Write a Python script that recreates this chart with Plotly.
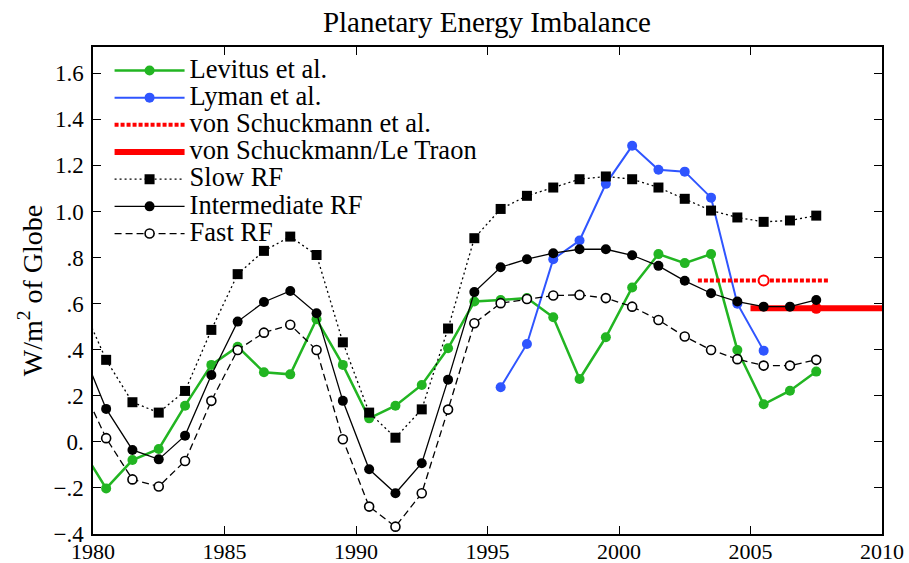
import plotly.graph_objects as go

# ---------------- data ----------------
years_model = [1979.5 + i for i in range(29)]  # 1979.5 .. 2007.5
slow_rf = [0.614, 0.356, 0.172, 0.127, 0.221, 0.486, 0.728, 0.829, 0.891, 0.811,
           0.432, 0.127, 0.018, 0.141, 0.492, 0.884, 1.011, 1.068, 1.104, 1.140,
           1.152, 1.140, 1.104, 1.055, 1.004, 0.974, 0.955, 0.961, 0.982]
inter_rf = [0.423, 0.143, -0.035, -0.076, 0.027, 0.290, 0.522, 0.607, 0.655, 0.558,
            0.178, -0.119, -0.223, -0.093, 0.270, 0.650, 0.758, 0.793, 0.819, 0.836,
            0.836, 0.810, 0.764, 0.699, 0.645, 0.609, 0.587, 0.587, 0.616]
fast_rf = [0.26, 0.016, -0.163, -0.194, -0.083, 0.178, 0.399, 0.474, 0.508, 0.399,
           0.011, -0.281, -0.368, -0.223, 0.140, 0.515, 0.602, 0.620, 0.635, 0.638,
           0.624, 0.587, 0.529, 0.457, 0.399, 0.359, 0.331, 0.331, 0.356]
levitus = [-0.018, -0.202, -0.079, -0.031, 0.157, 0.334, 0.413, 0.302, 0.293, 0.532,
           0.334, 0.102, 0.157, 0.247, 0.406, 0.609, 0.616, 0.624, 0.541, 0.273,
           0.454, 0.670, 0.815, 0.776, 0.815, 0.399, 0.163, 0.222, 0.305]

years_lyman = [1995.5, 1996.5, 1997.5, 1998.5, 1999.5, 2000.5, 2001.5, 2002.5, 2003.5, 2004.5, 2005.5]
lyman = [0.237, 0.425, 0.793, 0.874, 1.120, 1.285, 1.181, 1.173, 1.060, 0.600, 0.396]

vs_x = [2003.0, 2008.0]
vs_y = [0.70, 0.70]
vs_mark_x = [2005.5]
vs_mark_y = [0.70]

vslt_x = [2005.0, 2010.0]
vslt_y = [0.58, 0.58]
vslt_mark_x = [2007.5]
vslt_mark_y = [0.58]

ytick_vals = [-0.4, -0.2, 0.0, 0.2, 0.4, 0.6, 0.8, 1.0, 1.2, 1.4, 1.6]
ytick_text = ["\u2212.4", "\u2212.2", "0.", ".2", ".4", ".6", ".8", "1.0", "1.2", "1.4", "1.6"]
xtick_vals = [1980, 1985, 1990, 1995, 2000, 2005, 2010]

GREEN = "#22B522"
BLUE = "#2F55FF"
RED = "#FF0000"
SERIF = "Liberation Serif, Times New Roman, serif"


def nm(s):
    return '<span style="font-size:26.5px">' + s + '</span>'


fig = go.Figure()

fig.add_trace(go.Scatter(x=years_model, y=levitus, mode="lines+markers", name=nm("Levitus et al."),
                         line=dict(color=GREEN, width=2.5), marker=dict(color=GREEN, size=10)))
fig.add_trace(go.Scatter(x=years_lyman, y=lyman, mode="lines+markers", name=nm("Lyman et al."),
                         line=dict(color=BLUE, width=2), marker=dict(color=BLUE, size=10)))
fig.add_trace(go.Scatter(x=vs_x, y=vs_y, mode="lines", name=nm("von Schuckmann et al."),
                         line=dict(color=RED, width=4, dash="4px,2px")))
fig.add_trace(go.Scatter(x=vs_mark_x, y=vs_mark_y, mode="markers", showlegend=False,
                         marker=dict(color="white", size=10, symbol="circle",
                                     line=dict(color=RED, width=2))))
fig.add_trace(go.Scatter(x=vslt_x, y=vslt_y, mode="lines", name=nm("von Schuckmann/Le Traon"),
                         line=dict(color=RED, width=6)))
fig.add_trace(go.Scatter(x=vslt_mark_x, y=vslt_mark_y, mode="markers", showlegend=False,
                         marker=dict(color=RED, size=11)))
fig.add_trace(go.Scatter(x=years_model, y=slow_rf, mode="lines+markers", name=nm("Slow RF"),
                         line=dict(color="black", width=1.3, dash="2px,3px"),
                         marker=dict(color="black", size=10, symbol="square")))
fig.add_trace(go.Scatter(x=years_model, y=inter_rf, mode="lines+markers", name=nm("Intermediate RF"),
                         line=dict(color="black", width=1.3),
                         marker=dict(color="black", size=10, symbol="circle")))
fig.add_trace(go.Scatter(x=years_model, y=fast_rf, mode="lines+markers", name=nm("Fast RF"),
                         line=dict(color="black", width=1.3, dash="7px,4px"),
                         marker=dict(color="white", size=9, symbol="circle",
                                     line=dict(color="black", width=1.6))))

fig.update_layout(
    width=909, height=563,
    margin=dict(l=93, r=27, t=47, b=29),
    paper_bgcolor="white", plot_bgcolor="white",
    font=dict(family=SERIF, color="black", size=22),
    title=dict(text="Planetary Energy Imbalance", x=0.5357, xanchor="center",
               y=0.961, yanchor="middle", font=dict(family=SERIF, size=29, color="black")),
    showlegend=True,
    legend=dict(x=0.021, y=0.99, xanchor="left", yanchor="top",
                bgcolor="rgba(0,0,0,0)", borderwidth=0,
                font=dict(family=SERIF, size=18.6, color="black"),
                itemwidth=70, tracegroupgap=0),
)

fig.update_xaxes(range=[1980, 2010], tickvals=xtick_vals, ticks="inside", ticklen=8,
                 tickwidth=1.3, tickcolor="black", showline=True, linecolor="black",
                 linewidth=1.5, mirror="ticks", showgrid=False, zeroline=False,
                 automargin=False, ticklabelstandoff=-3,
                 tickfont=dict(family=SERIF, size=22, color="black"))
fig.update_yaxes(range=[-0.4, 1.714], tickvals=ytick_vals, ticktext=ytick_text,
                 ticks="inside", ticklen=8, tickwidth=1.3, tickcolor="black",
                 showline=True, linecolor="black", linewidth=1.5, mirror="ticks",
                 showgrid=False, zeroline=False, ticklabelstandoff=3, automargin=False,
                 tickfont=dict(family=SERIF, size=23, color="black"),
                 title=dict(text="W/m<sup>2</sup> of Globe", standoff=3,
                            font=dict(family=SERIF, size=28, color="black")))

fig.write_html("out.html")
